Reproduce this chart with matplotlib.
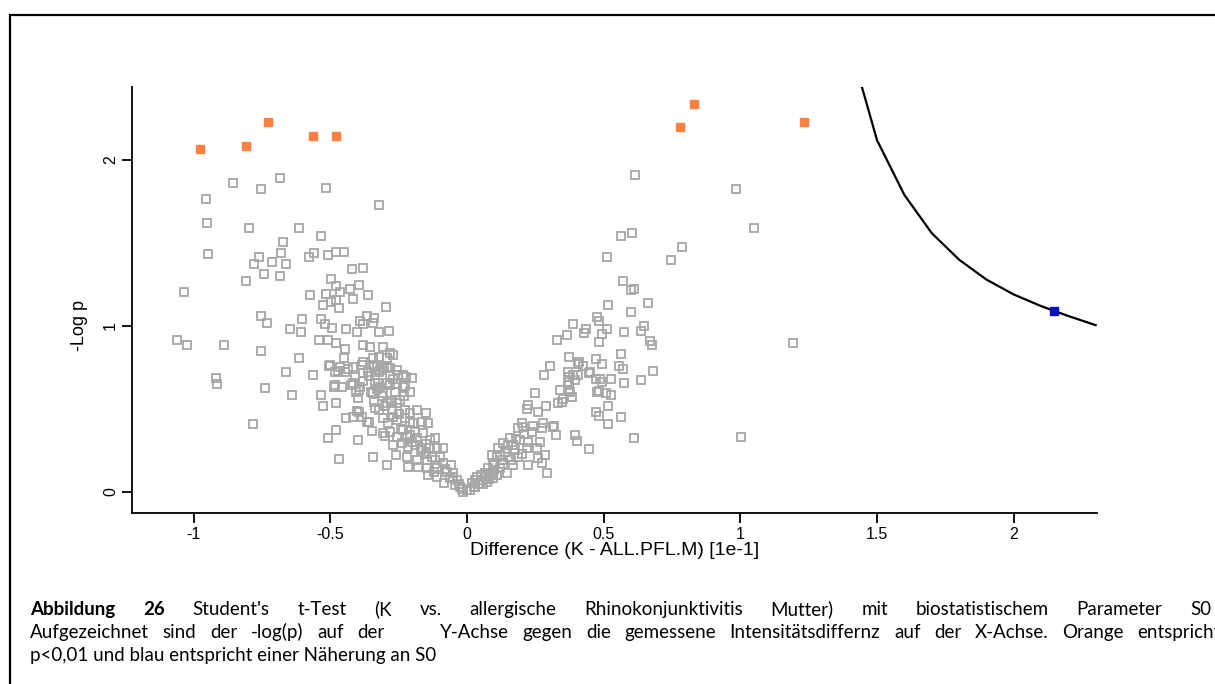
import matplotlib
matplotlib.use('Agg')
import matplotlib.pyplot as plt
from matplotlib.patches import Rectangle

# significant hits (p < 0.01)
sig_x = [-0.977, -0.809, -0.728, -0.563, -0.479, 0.779, 0.831, 1.233]
sig_y = [2.066, 2.084, 2.229, 2.145, 2.145, 2.199, 2.337, 2.229]

# hit closest to the S0 curve
s0_hit_x = [2.148]
s0_hit_y = [1.090]

# S0 threshold curve
s0_x = [1.40, 1.50, 1.60, 1.70, 1.80, 1.90, 2.00, 2.10, 2.20, 2.30]
s0_y = [2.70, 2.12, 1.79, 1.56, 1.40, 1.28, 1.19, 1.12, 1.06, 1.005]

# non-significant proteins, negative difference
left_pts = [
    (-1.035, 1.205), (-1.061, 0.916), (-1.025, 0.886), (-0.955, 1.765), (-0.951, 1.620),
    (-0.948, 1.434), (-0.889, 0.886), (-0.918, 0.687), (-0.915, 0.651), (-0.856, 1.861),
    (-0.754, 1.825), (-0.684, 1.892), (-0.516, 1.831), (-0.322, 1.729), (-0.798, 1.590),
    (-0.615, 1.590), (-0.534, 1.542), (-0.673, 1.506), (-0.761, 1.416), (-0.681, 1.440),
    (-0.779, 1.373), (-0.713, 1.386), (-0.662, 1.373), (-0.578, 1.416), (-0.560, 1.440),
    (-0.509, 1.428), (-0.479, 1.446), (-0.450, 1.446), (-0.421, 1.343), (-0.381, 1.349),
    (-0.743, 1.313), (-0.684, 1.301), (-0.809, 1.271), (-0.498, 1.283), (-0.479, 1.241),
    (-0.516, 1.193), (-0.465, 1.205), (-0.428, 1.223), (-0.395, 1.247), (-0.574, 1.187),
    (-0.362, 1.187), (-0.498, 1.145), (-0.479, 1.157), (-0.527, 1.127), (-0.468, 1.108),
    (-0.417, 1.163), (-0.296, 1.114), (-0.754, 1.060), (-0.732, 1.018), (-0.604, 1.042),
    (-0.534, 1.042), (-0.520, 1.012), (-0.494, 0.988), (-0.443, 0.982), (-0.648, 0.982),
    (-0.607, 0.964), (-0.402, 0.964), (-0.381, 1.012), (-0.366, 1.060), (-0.340, 1.048),
    (-0.322, 0.964), (-0.285, 0.970), (-0.392, 1.030), (-0.344, 1.018), (-0.754, 0.849),
    (-0.615, 0.807), (-0.542, 0.916), (-0.509, 0.916), (-0.479, 0.898), (-0.446, 0.861),
    (-0.450, 0.807), (-0.381, 0.886), (-0.355, 0.873), (-0.307, 0.873), (-0.282, 0.837),
    (-0.322, 0.813), (-0.344, 0.807), (-0.293, 0.807), (-0.271, 0.825), (-0.505, 0.759),
    (-0.472, 0.729), (-0.435, 0.741), (-0.417, 0.753), (-0.410, 0.693), (-0.381, 0.783),
    (-0.340, 0.753), (-0.304, 0.747), (-0.362, 0.723), (-0.329, 0.759), (-0.322, 0.723),
    (-0.282, 0.747), (-0.252, 0.705), (-0.223, 0.693), (-0.201, 0.687), (-0.662, 0.723),
    (-0.563, 0.705), (-0.739, 0.627), (-0.640, 0.584), (-0.534, 0.584), (-0.527, 0.518),
    (-0.479, 0.536), (-0.487, 0.633), (-0.457, 0.633), (-0.424, 0.645), (-0.395, 0.614),
    (-0.399, 0.566), (-0.344, 0.596), (-0.326, 0.657), (-0.340, 0.542), (-0.322, 0.494),
    (-0.392, 0.633), (-0.337, 0.657), (-0.318, 0.633), (-0.293, 0.657), (-0.260, 0.651),
    (-0.227, 0.639), (-0.783, 0.410), (-0.443, 0.446), (-0.417, 0.452), (-0.402, 0.488),
    (-0.384, 0.452), (-0.359, 0.422), (-0.479, 0.373), (-0.509, 0.325), (-0.399, 0.313),
    (-0.348, 0.367), (-0.300, 0.337), (-0.468, 0.199), (-0.344, 0.211), (-0.293, 0.163),
    (-0.260, 0.223), (-0.501, 0.765), (-0.483, 0.723), (-0.465, 0.753), (-0.446, 0.723),
    (-0.384, 0.765), (-0.381, 0.717), (-0.344, 0.765), (-0.337, 0.705), (-0.318, 0.735),
    (-0.293, 0.753), (-0.282, 0.705), (-0.256, 0.735), (-0.234, 0.705), (-0.483, 0.645),
    (-0.417, 0.657), (-0.406, 0.602), (-0.307, 0.596), (-0.282, 0.645), (-0.263, 0.602),
    (-0.234, 0.633), (-0.209, 0.602), (-0.337, 0.506), (-0.293, 0.536), (-0.274, 0.494),
    (-0.256, 0.536), (-0.245, 0.554), (-0.227, 0.494), (-0.209, 0.476), (-0.183, 0.494),
    (-0.150, 0.476), (-0.395, 0.482), (-0.366, 0.422), (-0.307, 0.446), (-0.289, 0.416),
    (-0.256, 0.434), (-0.227, 0.446), (-0.198, 0.416), (-0.165, 0.422), (-0.143, 0.416),
    (-0.307, 0.355), (-0.282, 0.361), (-0.256, 0.331), (-0.234, 0.373), (-0.209, 0.343),
    (-0.183, 0.325), (-0.161, 0.355), (-0.135, 0.313), (-0.117, 0.325), (-0.271, 0.283),
    (-0.238, 0.295), (-0.216, 0.271), (-0.190, 0.283), (-0.165, 0.265), (-0.135, 0.265),
    (-0.110, 0.265), (-0.088, 0.265), (-0.220, 0.211), (-0.216, 0.151), (-0.183, 0.193),
    (-0.179, 0.151), (-0.146, 0.193), (-0.146, 0.145), (-0.117, 0.193), (-0.110, 0.151),
    (-0.088, 0.175), (-0.073, 0.120), (-0.143, 0.102), (-0.110, 0.090), (-0.084, 0.054),
    (-0.051, 0.114), (-0.037, 0.072), (-0.026, 0.030), (0.000, 0.012), (-0.062, 0.084),
    (-0.044, 0.042), (-0.015, 0.000), (-0.150, 0.230), (-0.130, 0.210), (-0.100, 0.210),
    (-0.080, 0.140), (-0.060, 0.160), (-0.050, 0.090), (-0.030, 0.050), (-0.020, 0.020),
    (-0.120, 0.120), (-0.170, 0.250), (-0.200, 0.300), (-0.220, 0.330), (-0.240, 0.380),
    (-0.190, 0.360), (-0.150, 0.290), (-0.250, 0.470), (-0.270, 0.450), (-0.210, 0.420),
    (-0.300, 0.520), (-0.280, 0.550), (-0.230, 0.580), (-0.310, 0.580), (-0.350, 0.600),
    (-0.380, 0.670), (-0.330, 0.620), (-0.270, 0.680), (-0.360, 0.700),
]

# non-significant proteins, positive difference
right_pts = [
    (0.018, 0.054), (0.037, 0.090), (0.011, 0.012), (0.026, 0.030), (0.040, 0.048),
    (0.055, 0.072), (0.070, 0.090), (0.084, 0.108), (0.099, 0.133), (0.304, 0.759),
    (0.282, 0.705), (0.370, 0.723), (0.406, 0.771), (0.424, 0.759), (0.450, 0.723),
    (0.388, 0.705), (0.370, 0.663), (0.340, 0.614), (0.377, 0.602), (0.384, 0.572),
    (0.476, 0.602), (0.249, 0.596), (0.348, 0.542), (0.333, 0.536), (0.289, 0.518),
    (0.260, 0.482), (0.223, 0.524), (0.220, 0.500), (0.472, 0.482), (0.201, 0.416),
    (0.205, 0.392), (0.187, 0.386), (0.238, 0.361), (0.278, 0.416), (0.274, 0.386),
    (0.318, 0.398), (0.326, 0.343), (0.395, 0.343), (0.402, 0.307), (0.446, 0.259),
    (0.157, 0.325), (0.150, 0.283), (0.194, 0.313), (0.223, 0.301), (0.220, 0.265),
    (0.267, 0.301), (0.132, 0.295), (0.113, 0.265), (0.176, 0.253), (0.256, 0.265),
    (0.285, 0.223), (0.260, 0.205), (0.274, 0.175), (0.223, 0.163), (0.293, 0.114),
    (0.187, 0.211), (0.150, 0.211), (0.168, 0.163), (0.146, 0.114), (0.091, 0.223),
    (0.110, 0.211), (0.128, 0.193), (0.095, 0.175), (0.077, 0.145), (0.121, 0.145),
    (0.091, 0.114), (0.066, 0.114), (0.029, 0.072), (0.073, 0.060), (0.095, 0.084),
    (0.050, 0.100), (0.080, 0.080), (0.100, 0.160), (0.130, 0.170), (0.140, 0.240),
    (0.170, 0.280), (0.180, 0.320), (0.210, 0.350), (0.240, 0.400), (0.200, 0.230),
    (0.160, 0.190), (0.120, 0.220), (0.060, 0.050), (0.030, 0.030), (0.110, 0.100),
    (0.516, 1.127), (0.662, 1.139), (0.600, 1.084), (0.476, 1.054), (0.483, 1.030),
    (0.388, 1.012), (0.435, 0.982), (0.428, 0.958), (0.512, 0.982), (0.494, 0.952),
    (0.574, 0.964), (0.637, 0.970), (0.648, 1.000), (0.366, 0.946), (0.329, 0.916),
    (0.483, 0.904), (0.670, 0.910), (0.677, 0.886), (0.563, 0.831), (0.373, 0.813),
    (0.410, 0.783), (0.472, 0.801), (0.494, 0.771), (0.373, 0.693), (0.406, 0.705),
    (0.446, 0.717), (0.556, 0.759), (0.571, 0.741), (0.681, 0.729), (0.472, 0.681),
    (0.487, 0.681), (0.494, 0.663), (0.527, 0.681), (0.574, 0.657), (0.637, 0.675),
    (0.395, 0.675), (0.373, 0.645), (0.373, 0.614), (0.351, 0.560), (0.483, 0.608),
    (0.509, 0.596), (0.527, 0.584), (0.516, 0.518), (0.483, 0.458), (0.563, 0.452),
    (0.516, 0.410), (0.315, 0.392), (0.611, 0.325), (0.615, 1.910), (0.984, 1.825),
    (1.050, 1.590), (0.563, 1.542), (0.604, 1.560), (0.787, 1.476), (0.512, 1.416),
    (0.746, 1.398), (0.571, 1.271), (0.600, 1.217), (0.611, 1.223), (1.193, 0.898),
    (1.003, 0.331),
]

x_ticks = [-1, -0.5, 0, 0.5, 1, 1.5, 2]
x_tick_labels = ['-1', '-0.5', '0', '0.5', '1', '1.5', '2']
y_ticks = [0, 1, 2]

caption_1 = ["Abbildung", "26", "Student's", "t-Test", "(K", "vs.", "allergische",
             "Rhinokonjunktivitis", "Mutter)", "mit", "biostatistischem", "Parameter", "S0"]
caption_2 = ["Aufgezeichnet", "sind", "der", "-log(p)", "auf", "der", "Y-Achse", "gegen", "die",
             "gemessene", "Intensitätsdiffernz", "auf", "der", "X-Achse.", "Orange", "entspricht"]
caption_3 = "p<0,01 und blau entspricht einer Näherung an S0"

plt.rcParams['font.family'] = ['Liberation Sans', 'DejaVu Sans']

fig = plt.figure(figsize=(12.15, 6.84), dpi=100)
ax = fig.add_axes([0.1086, 0.25, 0.7943, 0.6228])

gx = [p[0] for p in left_pts + right_pts]
gy = [p[1] for p in left_pts + right_pts]
ax.plot(gx, gy, ls='none', marker='s', ms=5.6, mfc='none', mec='#a6a6a6', mew=1.3)
ax.plot(s0_x, s0_y, color='black', lw=1.6, zorder=3)
ax.plot(sig_x, sig_y, ls='none', marker='s', ms=6.2, mfc='#ff7f3f', mec='#ff7f3f', zorder=4)
ax.plot(s0_hit_x, s0_hit_y, ls='none', marker='s', ms=5.6, mfc='#0a0acc', mec='#0a0acc', zorder=5)

ax.set_xlim(-1.226, 2.305)
ax.set_ylim(-0.127, 2.44)
ax.spines['top'].set_visible(False)
ax.spines['right'].set_visible(False)
for s in ('left', 'bottom'):
    ax.spines[s].set_linewidth(1.3)
ax.set_xticks(x_ticks)
ax.set_xticklabels(x_tick_labels)
ax.set_yticks(y_ticks)
ax.tick_params(axis='both', length=7, width=1.3, labelsize=11.5, pad=3)
ax.tick_params(axis='y', labelrotation=90)
for lab in ax.get_yticklabels():
    lab.set_va('center')
ax.set_xlabel('Difference (K - ALL.PFL.M) [1e-1]', fontsize=14, labelpad=0)
ax.set_ylabel('-Log p', fontsize=13)
ax.yaxis.set_label_coords(-0.046, 0.44)

# frame around the whole figure
fig.patches.append(Rectangle((10 / 1215, -0.1), 1.2, 1.1 - 15 / 684,
                             transform=fig.transFigure, fill=False, lw=1.6,
                             edgecolor='black', clip_on=False))

cap_font = ['Lato', 'DejaVu Sans']
cap_size = 13.5
renderer = fig.canvas.get_renderer()


def justify(words, ybase, x0, x1, bold_n=0, weights=None):
    texts = []
    for i, w in enumerate(words):
        t = fig.text(0, ybase, w, fontsize=cap_size, family=cap_font,
                     fontweight='bold' if i < bold_n else 'normal', va='baseline')
        texts.append(t)
    widths = [t.get_window_extent(renderer).width / fig.bbox.width for t in texts]
    gw = weights if weights else [1] * (len(words) - 1)
    gap = (x1 - x0 - sum(widths)) / sum(gw)
    x = x0
    for i, t in enumerate(texts):
        t.set_x(x)
        if i < len(gw):
            x += widths[i] + gap * gw[i]


cap_x0 = 30 / 1215
justify(caption_1, 1 - 615 / 684, cap_x0, 1211 / 1215, bold_n=2)
w2 = [1] * (len(caption_2) - 1)
w2[5] = 4
justify(caption_2, 1 - 638 / 684, cap_x0, 1221 / 1215, weights=w2)
fig.text(cap_x0, 1 - 661 / 684, caption_3, fontsize=cap_size, family=cap_font, va='baseline')

fig.savefig('out.png', dpi=100)
